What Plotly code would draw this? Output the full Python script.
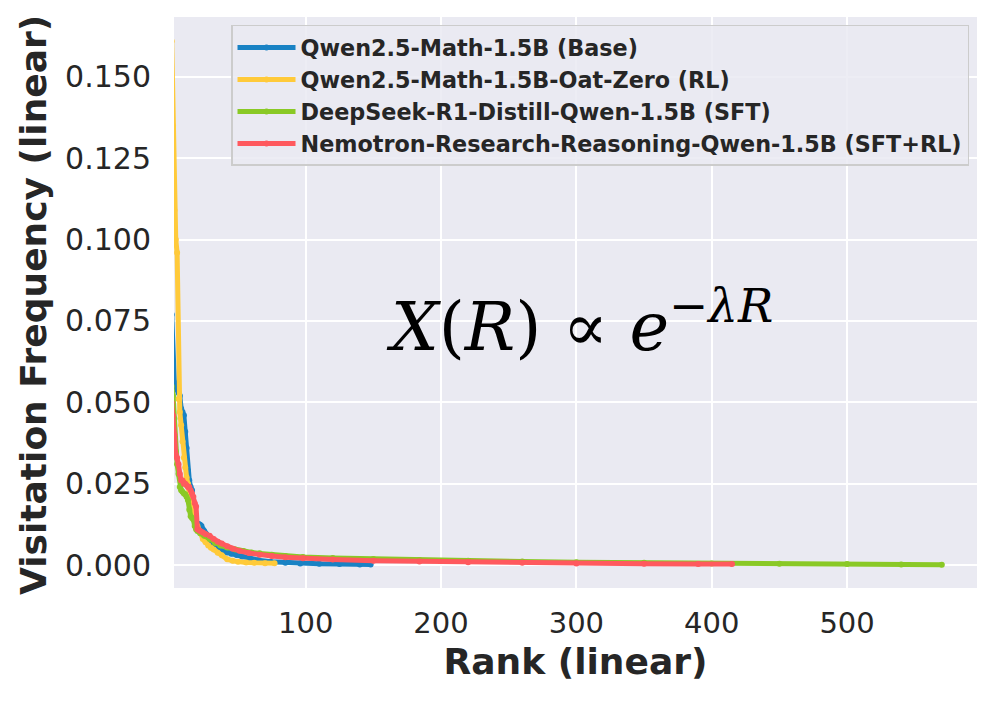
import plotly.graph_objects as go

# ---- data ----
series_names = [
    "Qwen2.5-Math-1.5B (Base)",
    "Qwen2.5-Math-1.5B-Oat-Zero (RL)",
    "DeepSeek-R1-Distill-Qwen-1.5B (SFT)",
    "Nemotron-Research-Reasoning-Qwen-1.5B (SFT+RL)",
]
series_colors = ["#1982C4", "#FFCA3A", "#8AC926", "#FF595E"]

base_rank = [1, 2, 3, 4, 5, 6, 7, 8, 9, 10, 11, 12, 13, 14, 15, 16, 17, 18, 19, 20,
             21, 22, 23, 24, 25, 26, 27, 28, 29, 30, 32, 34, 36, 38, 40, 42, 45, 49,
             53, 59, 65, 74, 85, 96, 110, 125, 140, 148]
base_freq = [0.077, 0.060, 0.056, 0.055, 0.054, 0.053, 0.052, 0.048, 0.047, 0.046,
             0.041, 0.036, 0.029, 0.026, 0.024, 0.023, 0.016, 0.015, 0.013, 0.0128,
             0.0126, 0.0124, 0.012, 0.011, 0.0105, 0.0098, 0.009, 0.0085, 0.008, 0.0075,
             0.0067, 0.006, 0.0053, 0.0048, 0.0043, 0.0039, 0.0035, 0.0031, 0.0026,
             0.0019, 0.0015, 0.0010, 0.0007, 0.0005, 0.0004, 0.0003, 0.0002, 0.0002]

rl_rank = [1, 2, 3, 4, 5, 6, 7, 8, 9, 10, 11, 12, 13, 14, 15, 16, 17, 18, 19, 20,
           22, 24, 26, 28, 30, 32, 35, 38, 42, 46, 50, 56, 62, 70, 77]
rl_freq = [0.161, 0.135, 0.109, 0.100, 0.096, 0.051, 0.047, 0.043, 0.038, 0.033,
           0.030, 0.027, 0.025, 0.023, 0.019, 0.017, 0.016, 0.014, 0.013, 0.012,
           0.010, 0.008, 0.007, 0.006, 0.0053, 0.0048, 0.0038, 0.003, 0.0018, 0.0013,
           0.001, 0.0008, 0.0007, 0.0006, 0.0006]

sft_rank = [1, 2, 3, 4, 5, 6, 7, 8, 9, 10, 11, 12, 13, 14, 15, 16, 17, 18, 19, 20,
            22, 25, 29, 33, 37, 42, 48, 54, 60, 66, 75, 85, 98, 120, 150, 184, 220,
            260, 300, 350, 400, 450, 500, 540, 570]
sft_freq = [0.055, 0.052, 0.045, 0.035, 0.031, 0.028, 0.024, 0.023, 0.0225, 0.022,
            0.0218, 0.021, 0.020, 0.017, 0.015, 0.0145, 0.014, 0.012, 0.011, 0.0105,
            0.0098, 0.009, 0.008, 0.0068, 0.006, 0.0054, 0.0048, 0.0043, 0.0039, 0.0036,
            0.0032, 0.0028, 0.0025, 0.0022, 0.0019, 0.0016, 0.0013, 0.0011, 0.0009,
            0.0007, 0.0005, 0.0004, 0.0003, 0.0002, 0.0001]

sftrl_rank = [1, 2, 3, 4, 5, 6, 7, 8, 9, 10, 11, 12, 13, 14, 15, 16, 17, 18, 19, 20,
              21, 22, 24, 26, 29, 32, 35, 38, 42, 46, 51, 58, 66, 75, 85, 98, 120, 150,
              184, 220, 260, 300, 350, 390, 415]
sftrl_freq = [0.050, 0.046, 0.040, 0.034, 0.033, 0.031, 0.028, 0.026, 0.026, 0.025,
              0.025, 0.0245, 0.024, 0.024, 0.023, 0.022, 0.021, 0.019, 0.018, 0.011,
              0.0108, 0.0105, 0.010, 0.0095, 0.009, 0.008, 0.0072, 0.0066, 0.0058, 0.005,
              0.0044, 0.0037, 0.0032, 0.0028, 0.0024, 0.0021, 0.0017, 0.0013, 0.0011,
              0.0009, 0.0007, 0.0005, 0.0004, 0.0003, 0.0003]

x_ticks = [100, 200, 300, 400, 500]
y_ticks = [0.0, 0.025, 0.05, 0.075, 0.1, 0.125, 0.15]

ranks = [base_rank, rl_rank, sft_rank, sftrl_rank]
freqs = [base_freq, rl_freq, sft_freq, sftrl_freq]

fig = go.Figure()
for name, color, xr, yv in zip(series_names, series_colors, ranks, freqs):
    fig.add_trace(go.Scatter(
        x=xr, y=yv, name=name, mode="lines+markers",
        line=dict(color=color, width=5),
        marker=dict(color=color, size=6),
    ))

text_color = "#262626"
fig.update_layout(
    width=997, height=704,
    margin=dict(l=174, r=20, t=17, b=116),
    plot_bgcolor="#EAEAF2", paper_bgcolor="white",
    font=dict(family="DejaVu Sans", color=text_color),
    showlegend=True,
    legend=dict(
        x=0.071, y=0.986, xanchor="left", yanchor="top",
        bgcolor="rgba(234,234,242,0.85)", bordercolor="#CCCCCC", borderwidth=1.5,
        font=dict(size=22.3, color=text_color, weight="bold"),
        itemwidth=58,
    ),
)
fig.update_xaxes(
    range=[2.7, 596], tickvals=x_ticks,
    showgrid=True, gridcolor="white", gridwidth=2,
    zeroline=False, showline=False,
    ticks="outside", ticklen=9, tickcolor="rgba(0,0,0,0)",
    tickfont=dict(size=29, color=text_color),
    title=dict(text="Rank (linear)", font=dict(size=36, weight="bold", color=text_color), standoff=10),
)
fig.update_yaxes(
    range=[-0.00704, 0.1684], tickvals=y_ticks, tickformat=".3f",
    showgrid=True, gridcolor="white", gridwidth=2,
    zeroline=False, showline=False,
    ticks="outside", ticklen=16, tickcolor="rgba(0,0,0,0)",
    tickfont=dict(size=30, color=text_color),
)
# y-axis title placed as a rotated annotation for precise placement
fig.add_annotation(
    xref="paper", yref="paper", x=(33 - 174) / 803, y=(588 - 305) / 571,
    xanchor="center", yanchor="middle", textangle=-90,
    text="<b>Visitation Frequency (linear)</b>", showarrow=False,
    font=dict(family="DejaVu Sans", size=36, color=text_color),
)
fig.add_annotation(
    xref="paper", yref="paper", x=(579 - 174) / 803, y=0.465, xanchor="center", yanchor="middle",
    text="<i>X</i>(<i>R</i>)&nbsp;∝&nbsp;<i>e</i><sup>−<i>λR</i></sup>",
    showarrow=False, font=dict(family="DejaVu Serif", size=67, color="black"),
)

fig.write_html("out.html")
